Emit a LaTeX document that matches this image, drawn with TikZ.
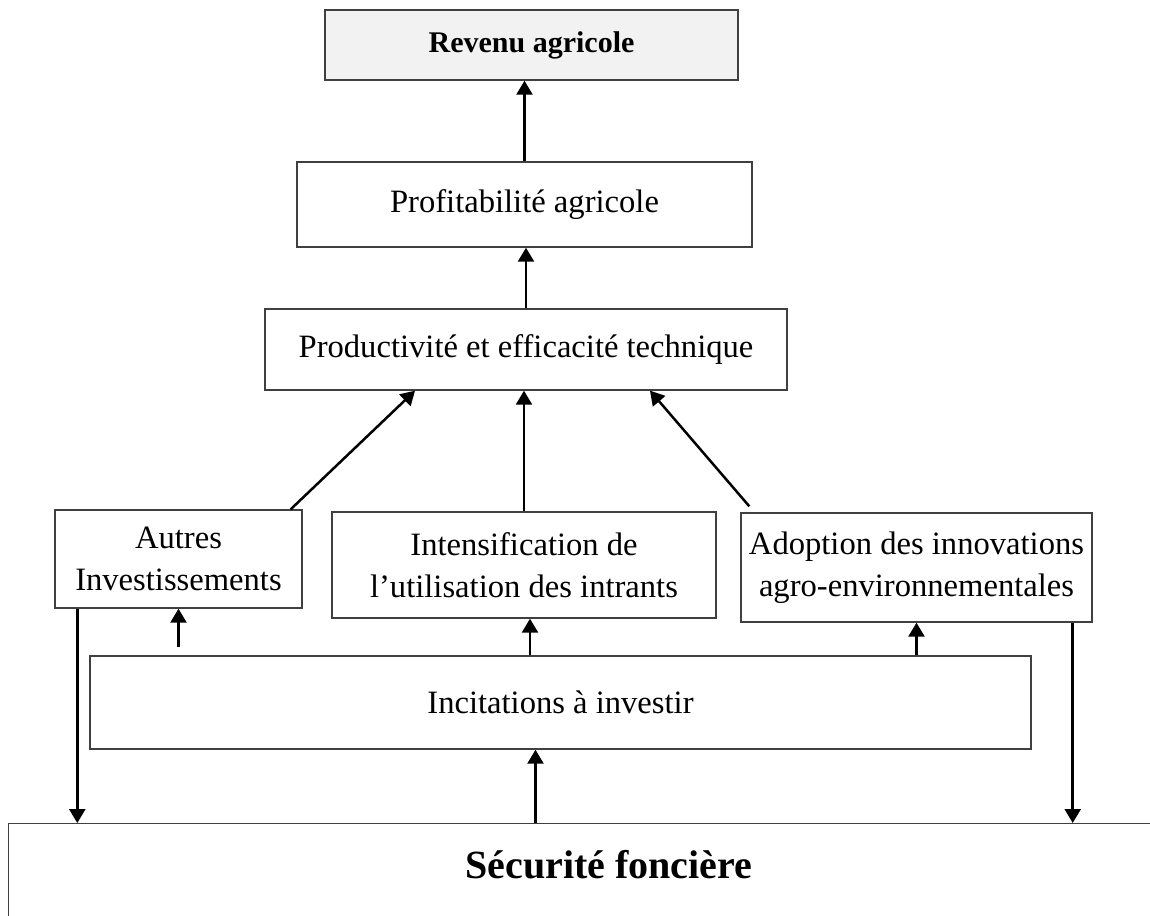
\documentclass[tikz,border=0pt]{standalone}
\usepackage{fontspec}
\setmainfont{Liberation Serif}
\usetikzlibrary
  {
    arrows.meta,   % triangle arrow heads
    positioning,
  }

\begin{document}
\begin{tikzpicture}
    [
      x=0.5pt,
      y=-0.5pt,
      box/.style=
        {
          rectangle,
          draw=black!75,
          line width=0.7pt,
          align=center,
          inner sep=0pt,
          font=\fontsize{16.3}{21}\selectfont,
        },
      link/.style=
        {
          line width=1.25pt,
          -{Triangle[length=7pt,width=8pt]},
        }
    ]
    \useasboundingbox (0,0) rectangle (1150,915);
    \clip (0,0) rectangle (1150,915);

    \node (rev) [box, fill=black!5, minimum width=206.5pt, minimum height=35pt,
                 font=\fontsize{15}{18}\selectfont\bfseries] at (531.5,45) {Revenu agricole};
    \node (prof) [box, minimum width=227.5pt, minimum height=42.5pt] at (524.5,204.5) {Profitabilité agricole};
    \node (prod) [box, minimum width=261pt, minimum height=40.5pt] at (526,349.5) {Productivité et efficacité technique};
    \node (autres) [box, minimum width=123.5pt, minimum height=49pt] at (178.5,559) {Autres\\Investissements};
    \node (intens) [box, minimum width=192pt, minimum height=53pt] at (524,565) {Intensification de\\l’utilisation des intrants};
    \node (adopt) [box, minimum width=175.5pt, minimum height=54.5pt] at (916.5,567.5) {Adoption des innovations\\agro-environnementales};
    \node (incit) [box, minimum width=470.5pt, minimum height=46.5pt] at (560.5,702.5) {Incitations à investir};
    \node (secu) [box, anchor=north west, minimum width=600pt, text height=27.5pt, text depth=60pt,
                  font=\fontsize{20}{24}\selectfont\bfseries] at (8,823) {Sécurité foncière};

    \draw [link] (prof.north) -- (prof.north |- rev.south);
    \draw [link] (prod.north) -- (prod.north |- prof.south);
    \draw [link] ([xshift=-6pt]autres.north east) -- ([xshift=-55.5pt]prod.south);
    \draw [link] (intens.north) -- (intens.north |- prod.south);
    \draw [link] ([xshift=4.5pt,yshift=3pt]adopt.north west) -- ([xshift=62pt]prod.south);
    \draw [link] ([yshift=4pt]incit.north -| autres.south) -- (autres.south);
    \draw [link] ([xshift=3pt]intens.south |- incit.north) -- ([xshift=3pt]intens.south);
    \draw [link] (adopt.south |- incit.north) -- (adopt.south);
    \draw [link] ([xshift=-12.5pt]incit.south |- secu.north) -- ([xshift=-12.5pt]incit.south);
    \draw [link] ([xshift=11.5pt]autres.south west) -- ([xshift=11.5pt]autres.south west |- secu.north);
    \draw [link] ([xshift=-10pt]adopt.south east) -- ([xshift=-10pt]adopt.south east |- secu.north);
  \end{tikzpicture}
\end{document}
